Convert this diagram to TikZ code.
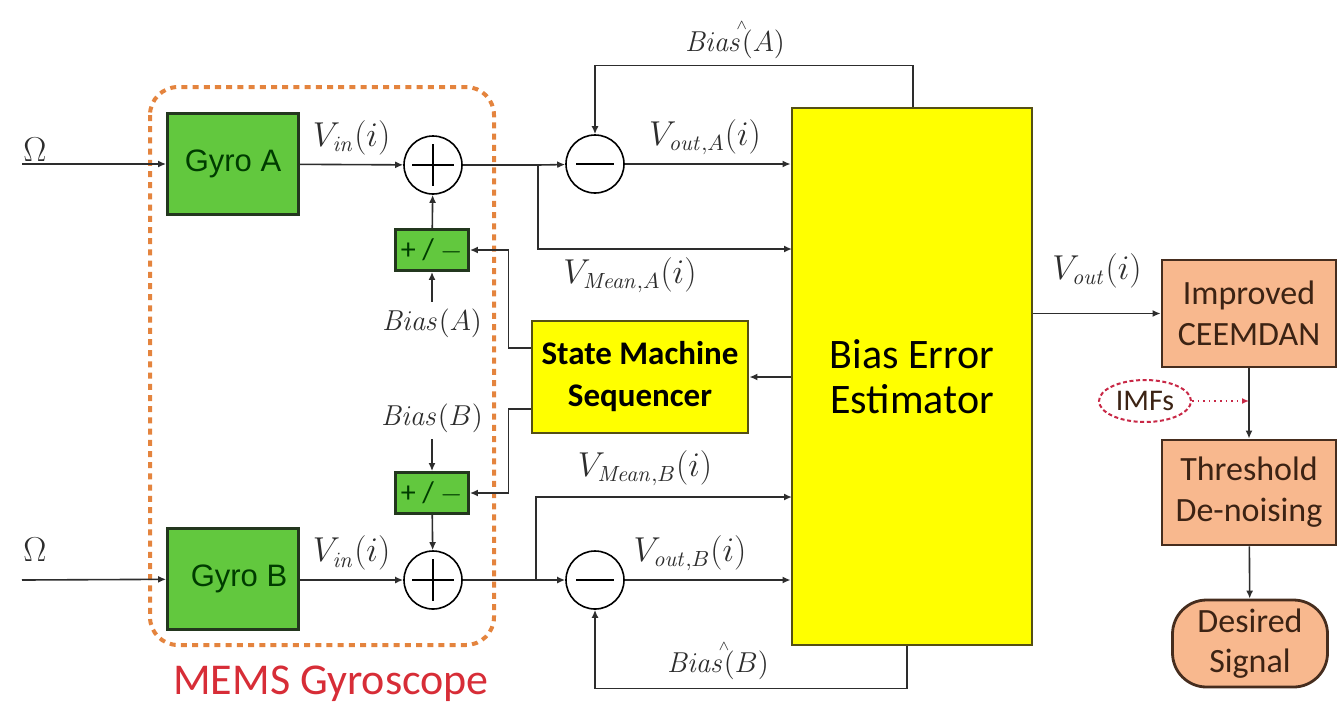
\documentclass[tikz,border=0pt]{standalone}
\usepackage[no-math]{fontspec}
\setmainfont{Carlito}
\newfontfamily\gyrofont{Liberation Sans}
\usetikzlibrary{arrows.meta,shapes.geometric}
\definecolor{linegray}{RGB}{45,45,45}
\definecolor{gyrogreen}{RGB}{98,200,62}
\definecolor{gyroedge}{RGB}{35,55,30}
\definecolor{gyrotext}{RGB}{0,60,0}
\definecolor{yfill}{RGB}{255,255,0}
\definecolor{yedge}{RGB}{85,80,20}
\definecolor{pfill}{RGB}{248,184,142}
\definecolor{pedge}{RGB}{70,45,30}
\definecolor{ptext}{RGB}{60,35,20}
\definecolor{memsorange}{RGB}{228,132,62}
\definecolor{memsred}{RGB}{215,45,55}
\definecolor{imfred}{RGB}{200,40,70}
\newcommand{\biashat}{\hbox to 0pt{\hss\raisebox{1.6ex}{$\scriptscriptstyle\wedge$}\hss}}
\begin{document}
\begin{tikzpicture}[x=0.5pt,y=-0.5pt,
  line/.style={draw=linegray, line width=0.8pt},
  arr/.style={line, -{Latex[length=4pt,width=3.5pt]}},
  gyro/.style={draw=gyroedge, line width=1.4pt, fill=gyrogreen, text=gyrotext,
    minimum width=65.5pt, minimum height=50.5pt, font=\gyrofont\fontsize{15.5}{18}\selectfont},
  pmbox/.style={draw=gyroedge, line width=1.4pt, fill=gyrogreen, text=gyrotext,
    minimum width=36.5pt, minimum height=20.5pt, inner sep=0pt, font=\fontsize{15}{16}\selectfont},
  sumnode/.style={circle, draw=black, line width=0.8pt, minimum size=29pt, inner sep=0pt},
  ybox/.style={draw=yedge, line width=1.4pt, fill=yfill, text=black, align=center, inner sep=0pt},
  pbox/.style={draw=pedge, line width=1.4pt, fill=pfill, text=ptext, align=center,
    inner sep=0pt, font=\fontsize{17}{20.5}\selectfont},
  sig/.style={text=linegray, font=\fontsize{16}{18}\selectfont},
  biaslbl/.style={text=linegray, font=\fontsize{14.5}{16}\selectfont},
]
\useasboundingbox (0,0) rectangle (1338,719);

% MEMS gyroscope frame
\draw[memsorange, line width=2pt, dash pattern=on 3pt off 2.6pt, rounded corners=14pt]
  (150,87) rectangle (494,645);
\node[text=memsred, font=\fontsize{22}{24}\selectfont] (memslbl) at (331,684) {MEMS Gyroscope};

% gyros and bias injection
\node[gyro] (gyroA) at (233,164) {Gyro A};
\node[gyro] (gyroB) at (233,579) {\hspace{6pt}Gyro B};
\node[sumnode] (sumA) at (433,165) {};
\node[sumnode] (sumB) at (433,580) {};
\node[pmbox] (pmA) at (432,250) {+ / $-$};
\node[pmbox] (pmB) at (432,493) {+ / $-$};
\node[biaslbl] (biasA) at (432,323) {$\mathit{Bias}\bigl(A\bigr)$};
\node[biaslbl] (biasB) at (432,418) {$\mathit{Bias}\bigl(B\bigr)$};
\foreach \s in {sumA,sumB}
  \draw[line width=0.9pt] ([yshift=-4.5pt]\s.north) -- ([yshift=4.5pt]\s.south)
    ([xshift=4.5pt]\s.west) -- ([xshift=-4.5pt]\s.east);

% inputs
\coordinate (inA) at (22,164);
\coordinate (inB) at (22,580);
\node[sig] (omA) at (35,150) {$\Omega$};
\node[sig] (omB) at (35,550) {$\Omega$};
\draw[arr] (inA) -- (gyroA);
\draw[arr] (inB) -- (gyroB);
\draw[arr] (gyroA) -- (sumA) node[sig, pos=0.5, above=1pt] {$V_{\mathit{in}}\bigl(i\bigr)$};
\draw[arr] (gyroB.east |- sumB) -- (sumB) node[sig, pos=0.5, above=1pt] {$V_{\mathit{in}}\bigl(i\bigr)$};
\draw[arr] (pmA) -- (sumA);
\draw[arr] (biasA) -- (pmA);
\draw[arr] (biasB) -- (pmB);
\draw[arr] (pmB) -- (sumB);

% estimator and sequencer
\node[ybox, minimum width=120pt, minimum height=268.5pt,
  font=\fontsize{21}{22.5}\selectfont] (est) at (912,376.5) {Bias Error\\Estimator};
\node[ybox, minimum width=108pt, minimum height=56pt,
  font=\bfseries\fontsize{16.5}{21}\selectfont] (sm) at (640,377) {State Machine\\Sequencer};
\node[sumnode] (minusA) at (595,164) {};
\node[sumnode] (minusB) at (595,580) {};
\foreach \m in {minusA,minusB}
  \draw[line width=1.1pt] ([xshift=5.5pt]\m.west) -- ([xshift=-5.5pt]\m.east);

\coordinate (jA) at (538,165);
\coordinate (jB) at (536,580);
\coordinate (meanA) at (792,249);
\coordinate (meanB) at (792,497);
\draw[line] (sumA) -- (jA);
\draw[line] (sumB) -- (jB);
\draw[arr] (jA) -- (minusA);
\draw[arr] (jB) -- (minusB);
\draw[arr] (jA) |- (meanA);
\draw[arr] (jB) |- (meanB);
\draw[arr] (minusA) -- (minusA -| est.west);
\draw[arr] (minusB) -- (minusB -| est.west);
\node[sig] (voutA) at (705,137) {$V_{\mathit{out},A}\bigl(i\bigr)$};
\node[sig] (vmeanA) at (630,275) {$V_{\mathit{Mean},A}\bigl(i\bigr)$};
\node[sig] (vmeanB) at (645,468) {$V_{\mathit{Mean},B}\bigl(i\bigr)$};
\node[sig] (voutB) at (690,553) {$V_{\mathit{out},B}\bigl(i\bigr)$};

% bias feedback
\draw[arr] ([xshift=0.5pt]est.north) -- ++(0,20.5pt) -| (minusA.north);
\draw[arr] ([xshift=-2.5pt]est.south) -- ++(0,-21pt) -| (minusB.south);
\node[biaslbl] (hatA) at (735,40) {$\mathit{Bias}\biashat\bigl(A\bigr)$};
\node[biaslbl] (hatB) at (718,661) {$\mathit{Bias}\biashat\bigl(B\bigr)$};

% sequencer control
\draw[arr] (est.west |- sm) -- (sm);
\draw[arr] ([yshift=14.5pt]sm.west) -- ++(-11pt,0) |- (pmA.east);
\draw[arr] ([yshift=-16pt]sm.west) -- ++(-11pt,0) |- (pmB.east);

% post processing
\node[pbox, minimum width=87pt, minimum height=53.5pt] (ceemdan) at (1249,313.5) {Improved\\CEEMDAN};
\node[pbox, minimum width=87pt, minimum height=52.5pt] (thresh) at (1249,492.5) {Threshold\\De-noising};
\node[pbox, minimum width=77.5pt, minimum height=43.5pt, rounded corners=17pt,
  font=\fontsize{17}{20}\selectfont] (desired) at (1250,643.5) {Desired\\Signal};
\node[ellipse, draw=imfred, line width=1pt, dash pattern=on 2pt off 1.3pt, text=ptext,
  minimum width=46pt, minimum height=21pt, inner sep=0pt,
  font=\fontsize{15}{17}\selectfont] (imfs) at (1145,401) {IMFs};
\coordinate (imfin) at (ceemdan.south |- imfs);
\draw[arr] (est.east |- ceemdan) -- (ceemdan) node[sig, pos=0.5, above=9pt] {$V_{\mathit{out}}\bigl(i\bigr)$};
\draw[arr] (ceemdan) -- (thresh);
\draw[arr] (thresh) -- (desired);
\draw[imfred, line width=0.8pt, dotted, -{Latex[length=3.5pt,width=3pt]}] (imfs) -- (imfin);
\end{tikzpicture}
\end{document}
